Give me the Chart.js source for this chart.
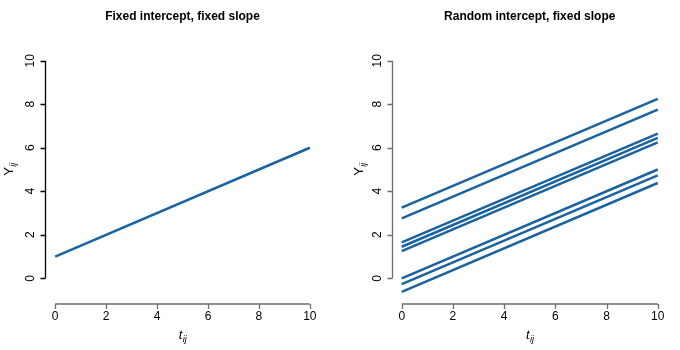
<!DOCTYPE html>
<html>
<head>
<meta charset="utf-8">
<script src="https://cdn.jsdelivr.net/npm/chart.js@4/dist/chart.umd.min.js"></script>
<style>
  body { margin: 0; background: #fff; }
  #wrap { position: relative; width: 680px; height: 350px; }
  .panel { position: absolute; top: 0; width: 340px; height: 350px; }
</style>
</head>
<body>
<div id="wrap">
  <div class="panel" style="left:0"><canvas id="left"></canvas></div>
  <div class="panel" style="left:340px"><canvas id="right"></canvas></div>
</div>
<script>
// line ends at t = 0 and t = 10
const tValues = [0, 10];
const leftStart = [1];
const leftEnd = [6];
const rightStart = [3.25, 2.75, 1.65, 1.45, 1.25, 0, -0.27, -0.62];
const rightEnd = [8.25, 7.75, 6.65, 6.45, 6.25, 5, 4.73, 4.38];
const xTicks = [0, 2, 4, 6, 8, 10];
const yTicks = [0, 2, 4, 6, 8, 10];
const titles = ["Fixed intercept, fixed slope", "Random intercept, fixed slope"];

const lineColor = "#1a62a0";
const font = "'Liberation Sans', Arial, sans-serif";

function makeDatasets(starts, ends) {
  return starts.map(function (s, i) {
    return {
      data: [{ x: tValues[0], y: s }, { x: tValues[1], y: ends[i] }],
      borderColor: lineColor,
      borderWidth: 2.5,
      pointRadius: 0,
      fill: false,
      clip: false,
    };
  });
}

function subLabel(ctx, main, sub, x, y, italicMain) {
  ctx.font = (italicMain ? "italic " : "") + "13px " + font;
  const w1 = ctx.measureText(main).width;
  ctx.font = "italic 9px " + font;
  const w2 = ctx.measureText(sub).width;
  let x0 = x - (w1 + w2) / 2;
  ctx.textAlign = "left";
  ctx.textBaseline = "middle";
  ctx.font = (italicMain ? "italic " : "") + "13px " + font;
  ctx.fillText(main, x0, y);
  ctx.font = "italic 9px " + font;
  ctx.fillText(sub, x0 + w1 + 0.5, y + 4);
}

// R-style axes drawn from the chart's own scales
const rAxes = {
  id: "rAxes",
  afterDraw(chart, args, opts) {
    const ctx = chart.ctx;
    const xs = chart.scales.x;
    const ys = chart.scales.y;
    const area = chart.chartArea;
    ctx.save();
    ctx.fillStyle = "#000";
    ctx.font = "bold 12px " + font;
    ctx.textAlign = "center";
    ctx.textBaseline = "middle";
    ctx.fillText(opts.title, (area.left + area.right) / 2, 17);

    // x axis
    const axY = 304;
    const xa = xs.getPixelForValue(xTicks[0]);
    const xb = xs.getPixelForValue(xTicks[xTicks.length - 1]);
    ctx.strokeStyle = "#6e6e6e";
    ctx.lineWidth = 1.3;
    ctx.beginPath();
    ctx.moveTo(xa, axY);
    ctx.lineTo(xb, axY);
    xTicks.forEach(function (t) {
      const px = Math.round(xs.getPixelForValue(t)) + 0.5;
      ctx.moveTo(px, axY);
      ctx.lineTo(px, axY + 5);
    });
    ctx.stroke();
    ctx.font = "12px " + font;
    ctx.textAlign = "center";
    xTicks.forEach(function (t) {
      ctx.fillText(String(t), xs.getPixelForValue(t), 317);
    });
    subLabel(ctx, "t", "ij", (area.left + area.right) / 2, 335, true);

    // y axis
    const axX = Math.round(area.left) + 0.5;
    const ya = ys.getPixelForValue(yTicks[0]);
    const yb = ys.getPixelForValue(yTicks[yTicks.length - 1]);
    ctx.strokeStyle = opts.yColor;
    ctx.beginPath();
    ctx.moveTo(axX, ya);
    ctx.lineTo(axX, yb);
    yTicks.forEach(function (t) {
      const py = Math.round(ys.getPixelForValue(t)) + 0.5;
      ctx.moveTo(axX, py);
      ctx.lineTo(axX - 5, py);
    });
    ctx.stroke();
    yTicks.forEach(function (t) {
      ctx.save();
      ctx.translate(axX - 15, ys.getPixelForValue(t));
      ctx.rotate(-Math.PI / 2);
      ctx.font = "12px " + font;
      ctx.textAlign = "center";
      ctx.textBaseline = "middle";
      ctx.fillText(String(t), 0, 0);
      ctx.restore();
    });
    ctx.save();
    ctx.translate(opts.yLabelX, (area.top + area.bottom) / 2);
    ctx.rotate(-Math.PI / 2);
    subLabel(ctx, "Y", "ij", 0, 0, false);
    ctx.restore();
    ctx.restore();
  },
};

function makeChart(id, starts, ends, title, pad, yColor, yLabelX) {
  const ctx = document.getElementById(id).getContext("2d");
  return new Chart(ctx, {
    type: "line",
    data: { datasets: makeDatasets(starts, ends) },
    options: {
      responsive: true,
      maintainAspectRatio: false,
      animation: false,
      layout: { padding: pad },
      plugins: {
        legend: { display: false },
        tooltip: { enabled: false },
        rAxes: { title: title, yColor: yColor, yLabelX: yLabelX },
      },
      scales: {
        x: { type: "linear", min: -0.4, max: 10.4, display: false },
        y: { type: "linear", min: -0.4, max: 10.4, display: false },
      },
    },
    plugins: [rAxes],
  });
}

makeChart("left", leftStart, leftEnd, titles[0],
  { left: 45, right: 20, top: 52, bottom: 63 }, "#000", 9);
makeChart("right", rightStart, rightEnd, titles[1],
  { left: 51.5, right: 12, top: 52, bottom: 63 }, "#6e6e6e", 19);
</script>
</body>
</html>
